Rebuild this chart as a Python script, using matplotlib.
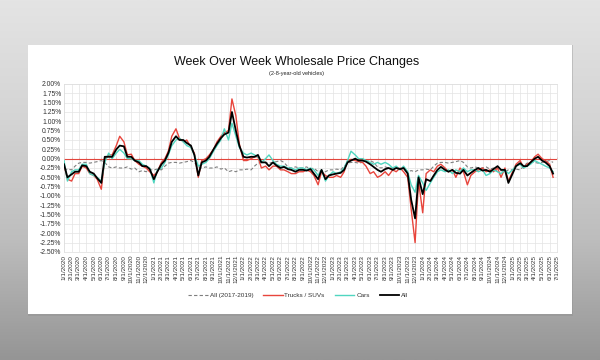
import numpy as np
import pandas as pd
import matplotlib
matplotlib.use("Agg")
import matplotlib.pyplot as plt
import matplotlib.dates as mdates
from matplotlib.ticker import FuncFormatter, MultipleLocator, NullFormatter
from matplotlib.colors import LinearSegmentedColormap
from matplotlib.patches import Rectangle

plt.rcParams['font.family'] = ['Liberation Sans', 'DejaVu Sans']

# 1. DATA (semi-monthly readings, % change week over week)
dates = pd.date_range("2020-01-01", periods=132, freq="SMS")

all_hist = [
    -0.30, -0.28, -0.30, -0.20, -0.12, -0.10, -0.10, -0.12, -0.10, -0.08, -0.05, -0.10,
    -0.22, -0.25, -0.22, -0.25, -0.25, -0.22, -0.28, -0.25, -0.35, -0.32, -0.35, -0.30,
    -0.30, -0.28, -0.30, -0.20, -0.12, -0.10, -0.10, -0.12, -0.10, -0.08, -0.05, -0.10,
    -0.22, -0.25, -0.22, -0.25, -0.25, -0.22, -0.28, -0.25, -0.35, -0.32, -0.35, -0.30,
    -0.30, -0.28, -0.30, -0.20, -0.12, -0.10, -0.10, -0.12, -0.10, -0.08, -0.05, -0.10,
    -0.22, -0.25, -0.22, -0.25, -0.25, -0.22, -0.28, -0.25, -0.35, -0.32, -0.35, -0.30,
    -0.30, -0.28, -0.30, -0.20, -0.12, -0.10, -0.10, -0.12, -0.10, -0.08, -0.05, -0.10,
    -0.22, -0.25, -0.22, -0.25, -0.25, -0.22, -0.28, -0.25, -0.35, -0.32, -0.35, -0.30,
    -0.30, -0.28, -0.30, -0.20, -0.12, -0.10, -0.10, -0.12, -0.10, -0.08, -0.05, -0.10,
    -0.22, -0.25, -0.22, -0.25, -0.25, -0.22, -0.28, -0.25, -0.35, -0.32, -0.35, -0.30,
    -0.30, -0.28, -0.30, -0.20, -0.12, -0.10, -0.10, -0.12, -0.10, -0.08, -0.05, -0.10,
]

trucks = [
    -0.15, -0.55, -0.60, -0.40, -0.40, -0.20, -0.25, -0.40, -0.45, -0.55, -0.82, 0.00,
    0.10, 0.10, 0.35, 0.60, 0.45, 0.10, 0.12, -0.05, -0.15, -0.20, -0.25, -0.35,
    -0.45, -0.35, -0.10, 0.00, 0.20, 0.60, 0.80, 0.55, 0.45, 0.50, 0.30, 0.15,
    -0.50, -0.05, 0.00, 0.10, 0.25, 0.45, 0.60, 0.70, 0.75, 1.60, 1.15, 0.40,
    -0.05, -0.05, 0.00, 0.05, 0.05, -0.25, -0.20, -0.30, -0.20, -0.20, -0.30, -0.30,
    -0.35, -0.40, -0.40, -0.35, -0.35, -0.30, -0.35, -0.45, -0.70, -0.35, -0.45, -0.50,
    -0.50, -0.45, -0.50, -0.35, -0.05, -0.02, -0.05, -0.08, -0.10, -0.20, -0.40, -0.35,
    -0.50, -0.45, -0.35, -0.45, -0.30, -0.35, -0.25, -0.35, -0.50, -1.35, -2.25, -0.60,
    -1.45, -0.40, -0.30, -0.35, -0.20, -0.15, -0.25, -0.35, -0.30, -0.50, -0.25, -0.35,
    -0.70, -0.45, -0.35, -0.30, -0.25, -0.35, -0.30, -0.35, -0.25, -0.50, -0.25, -0.60,
    -0.35, -0.15, -0.05, -0.25, -0.15, -0.10, 0.05, 0.12, 0.00, -0.05, -0.15, -0.50,
]

cars = [
    -0.05, -0.60, -0.35, -0.30, -0.30, -0.15, -0.15, -0.40, -0.45, -0.50, -0.60, -0.10,
    0.15, 0.00, 0.15, 0.25, 0.15, 0.00, 0.00, -0.05, -0.05, -0.15, -0.20, -0.25,
    -0.65, -0.30, -0.25, -0.10, 0.10, 0.35, 0.50, 0.55, 0.45, 0.35, 0.30, 0.10,
    -0.20, -0.15, -0.10, 0.00, 0.20, 0.35, 0.50, 0.80, 0.50, 0.95, 0.60, 0.30,
    0.15, 0.10, 0.15, 0.10, 0.05, -0.10, 0.00, 0.10, -0.05, -0.15, -0.20, -0.20,
    -0.25, -0.25, -0.30, -0.25, -0.25, -0.30, -0.25, -0.30, -0.45, -0.30, -0.60, -0.45,
    -0.35, -0.40, -0.35, -0.25, -0.05, 0.20, 0.10, 0.00, 0.00, -0.05, -0.10, -0.15,
    -0.10, -0.15, -0.10, -0.15, -0.25, -0.20, -0.30, -0.20, -0.35, -0.70, -0.90, -0.45,
    -0.65, -0.85, -0.65, -0.50, -0.35, -0.30, -0.35, -0.30, -0.40, -0.30, -0.35, -0.25,
    -0.35, -0.30, -0.30, -0.35, -0.30, -0.45, -0.40, -0.30, -0.35, -0.40, -0.30, -0.40,
    -0.30, -0.20, -0.15, -0.25, -0.20, -0.15, -0.05, -0.10, -0.15, -0.20, -0.25, -0.35,
]

all_now = [
    -0.15, -0.50, -0.42, -0.35, -0.35, -0.18, -0.20, -0.35, -0.40, -0.52, -0.65, 0.05,
    0.05, 0.05, 0.25, 0.35, 0.33, 0.05, 0.05, -0.05, -0.10, -0.20, -0.20, -0.28,
    -0.55, -0.35, -0.15, -0.05, 0.15, 0.45, 0.60, 0.50, 0.50, 0.42, 0.35, 0.10,
    -0.45, -0.10, -0.05, 0.05, 0.25, 0.40, 0.55, 0.65, 0.70, 1.25, 0.75, 0.35,
    0.05, 0.03, 0.05, 0.05, 0.10, -0.10, -0.10, -0.20, -0.10, -0.18, -0.25, -0.22,
    -0.28, -0.30, -0.35, -0.30, -0.30, -0.32, -0.28, -0.40, -0.55, -0.30, -0.55, -0.45,
    -0.42, -0.40, -0.38, -0.30, -0.10, -0.05, 0.00, -0.05, -0.05, -0.08, -0.15, -0.22,
    -0.30, -0.35, -0.28, -0.25, -0.30, -0.25, -0.28, -0.25, -0.40, -1.10, -1.60, -0.50,
    -0.95, -0.55, -0.60, -0.45, -0.30, -0.22, -0.30, -0.35, -0.30, -0.38, -0.40, -0.30,
    -0.45, -0.38, -0.30, -0.25, -0.32, -0.30, -0.35, -0.28, -0.20, -0.30, -0.30, -0.65,
    -0.40, -0.20, -0.12, -0.20, -0.20, -0.10, 0.00, 0.05, -0.05, -0.10, -0.20, -0.40,
]

# 2. FIGURE + BACKGROUND CARD
fig = plt.figure(figsize=(6, 3.6), dpi=100)

bg = fig.add_axes([0, 0, 1, 1], zorder=-10)
cmap = LinearSegmentedColormap.from_list("bg", ["#959595", "#bdbdbd", "#d4d4d4", "#e4e4e4"])
bg.imshow(np.linspace(0, 1, 256).reshape(-1, 1), cmap=cmap, aspect="auto",
          extent=[0, 1, 0, 1], origin="lower")
bg.add_patch(Rectangle((28 / 600, 1 - 316 / 360), 545 / 600, 271 / 360,
                       facecolor="#8a8a8a", alpha=0.35, edgecolor="none"))
bg.add_patch(Rectangle((28 / 600, 1 - 314 / 360), 544 / 600, 269 / 360,
                       facecolor="white", edgecolor="none"))
bg.set_xlim(0, 1)
bg.set_ylim(0, 1)
bg.axis("off")

# 3. CHART
ax = fig.add_axes([64 / 600, 1 - 252 / 360, 493 / 600, 168 / 360])

ax.axhline(0, color="#e2453c", lw=0.8, zorder=1.5)
ax.plot(dates, all_hist, color="#7f7f7f", lw=0.8, ls=(0, (3, 2)), label="All (2017-2019)", zorder=2)
ax.plot(dates, trucks, color="#e8453c", lw=1.0, label="Trucks / SUVs", zorder=3)
ax.plot(dates, cars, color="#50d6c0", lw=1.0, label="Cars", zorder=4)
ax.plot(dates, all_now, color="black", lw=1.3, label="All", zorder=5)

ax.set_xlim(pd.Timestamp("2020-01-01"), pd.Timestamp("2025-07-01"))
ax.set_ylim(-2.5, 2.0)
ax.yaxis.set_major_locator(MultipleLocator(0.25))
ax.yaxis.set_major_formatter(FuncFormatter(lambda v, p: f"{v:.2f}%"))
ax.xaxis.set_major_locator(mdates.MonthLocator())
ax.xaxis.set_major_formatter(FuncFormatter(
    lambda v, p: f"{mdates.num2date(v).month}/1/{mdates.num2date(v).year}"))
ax.tick_params(axis="x", rotation=90, labelsize=4.6, length=0, pad=2, labelcolor="#333333")
ax.tick_params(axis="y", labelsize=4.9, length=0, pad=2, labelcolor="#333333")
ax.grid(color="#e3e3e3", lw=0.5)
ax.set_axisbelow(True)
for s in ax.spines.values():
    s.set_color("#dddddd")
    s.set_linewidth(0.5)

# small red ticks along the zero line
sec = ax.secondary_xaxis(2.5 / 4.5)
sec.xaxis.set_major_locator(mdates.MonthLocator())
sec.xaxis.set_major_formatter(NullFormatter())
sec.tick_params(colors="#e2453c", length=1.5, width=0.5)
for s in sec.spines.values():
    s.set_visible(False)

fig.text(0.494, 1 - 62 / 360, "Week Over Week Wholesale Price Changes",
         ha="center", va="center", fontsize=9, color="#111111")
fig.text(0.494, 1 - 73.5 / 360, "(2-8-year-old vehicles)",
         ha="center", va="center", fontsize=4, color="#222222")

fig.legend(loc="center", bbox_to_anchor=(0.497, 1 - 295 / 360), ncol=4, frameon=False,
           fontsize=4.6, handlelength=3, columnspacing=1.6, handletextpad=0.3,
           labelcolor="#333333")

plt.savefig("out.png", dpi=100)
